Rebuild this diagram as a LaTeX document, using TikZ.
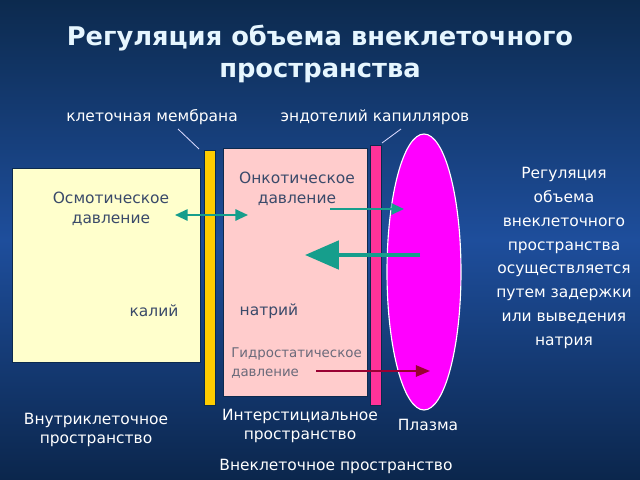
\documentclass[tikz,border=0pt]{standalone}
\usepackage{fontspec}
\setmainfont{DejaVu Sans}
\usetikzlibrary{arrows.meta}

\definecolor{bgtop}{HTML}{0C2A4E}
\definecolor{bgmid}{HTML}{1E4E9C}
\definecolor{bgbot}{HTML}{0B264C}
\definecolor{cellfill}{HTML}{FFFFCC}
\definecolor{interfill}{HTML}{FFCCCC}
\definecolor{membr}{HTML}{FFCC00}
\definecolor{endo}{HTML}{FF3399}
\definecolor{plasma}{HTML}{FF00FF}
\definecolor{arrteal}{HTML}{169E8C}
\definecolor{arrred}{HTML}{990033}
\definecolor{darktxt}{HTML}{3A4A6A}
\definecolor{graytxt}{HTML}{6A6A7A}
\definecolor{titletxt}{HTML}{E6F6FF}

\tikzset{
  wtxt/.style={text=white, font=\fontsize{11}{14}\selectfont, align=center, inner sep=0pt},
  dtxt/.style={text=darktxt, font=\fontsize{11}{14.5}\selectfont, align=center, inner sep=0pt},
  box/.style={draw=bgtop, line width=0.6pt},
}

\begin{document}
\begin{tikzpicture}[x=0.025cm, y=-0.025cm]
    \useasboundingbox (0,0) rectangle (640,480);
    % background
    \shade[top color=bgtop, bottom color=bgbot, middle color=bgmid] (0,0) rectangle (640,480);

    % title
    \node[text=titletxt, font=\bfseries\fontsize{18.3}{23}\selectfont, align=center, inner sep=0pt]
      (title) at (320,54) {Регуляция объема внеклеточного\\пространства};

    % compartments
    \draw[box, fill=cellfill] (12,168) rectangle (200,362);
    \draw[box, fill=membr] (204,150) rectangle (215,405);
    \draw[box, fill=interfill] (223,148) rectangle (367,396);
    \draw[box, fill=endo] (370,145) rectangle (381,405);
    \draw[white, line width=0.8pt, fill=plasma] (424,272) ellipse (37 and 138);

    % membrane labels
    \node[wtxt] (memlbl) at (152,117) {клеточная мембрана};
    \node[wtxt] (endolbl) at (375,117) {эндотелий капилляров};
    \coordinate (memtop) at (199,149);
    \coordinate (endotop) at (382,143);
    \draw[white!85!blue, line width=0.6pt] (178,129) -- (memtop);
    \draw[white!85!blue, line width=0.6pt] (401,129) -- (endotop);

    % texts inside
    \node[dtxt] (osm) at (111,209) {Осмотическое\\давление};
    \node[dtxt] (onc) at (297,189) {Онкотическое\\давление};
    \node[dtxt] (kal) at (154,311) {калий};
    \node[dtxt] (nat) at (269,311) {натрий};
    \node[text=graytxt, font=\fontsize{9.5}{13.5}\selectfont, align=left, inner sep=0pt, anchor=west]
      (hyd) at (231,363) {Гидростатическое\\давление};

    % arrows
    \coordinate (osmL) at (175,215);
    \coordinate (osmR) at (248,215);
    \draw[arrteal, line width=1.5pt, {Triangle[length=9pt,width=8pt]}-{Triangle[length=9pt,width=8pt]}] (osmL) -- (osmR);
    \coordinate (oncA) at (330,209);
    \coordinate (oncB) at (404,209);
    \draw[arrteal, line width=1.5pt, -{Triangle[length=9pt,width=8pt]}] (oncA) -- (oncB);
    \coordinate (retA) at (420,255);
    \coordinate (retB) at (305,255);
    \draw[arrteal, line width=3pt, -{Triangle[length=24pt,width=20pt]}] (retA) -- (retB);
    \coordinate (hydA) at (316,371);
    \coordinate (hydB) at (430,371);
    \draw[arrred, line width=1.3pt, -{Triangle[length=10pt,width=8pt]}] (hydA) -- (hydB);

    % bottom labels
    \node[wtxt] (intra) at (96,430) {Внутриклеточное\\пространство};
    \node[wtxt] (inter) at (300,426) {Интерстициальное\\пространство};
    \node[wtxt] (plz) at (428,425) {Плазма};
    \node[wtxt] (extra) at (336,466) {Внеклеточное пространство};

    % right text
    \node[text=white, font=\fontsize{11}{17}\selectfont, align=center, inner sep=0pt]
      (note) at (564,258) {Регуляция\\объема\\внеклеточного\\пространства\\осуществляется\\путем задержки\\или выведения\\натрия};
\end{tikzpicture}
\end{document}
